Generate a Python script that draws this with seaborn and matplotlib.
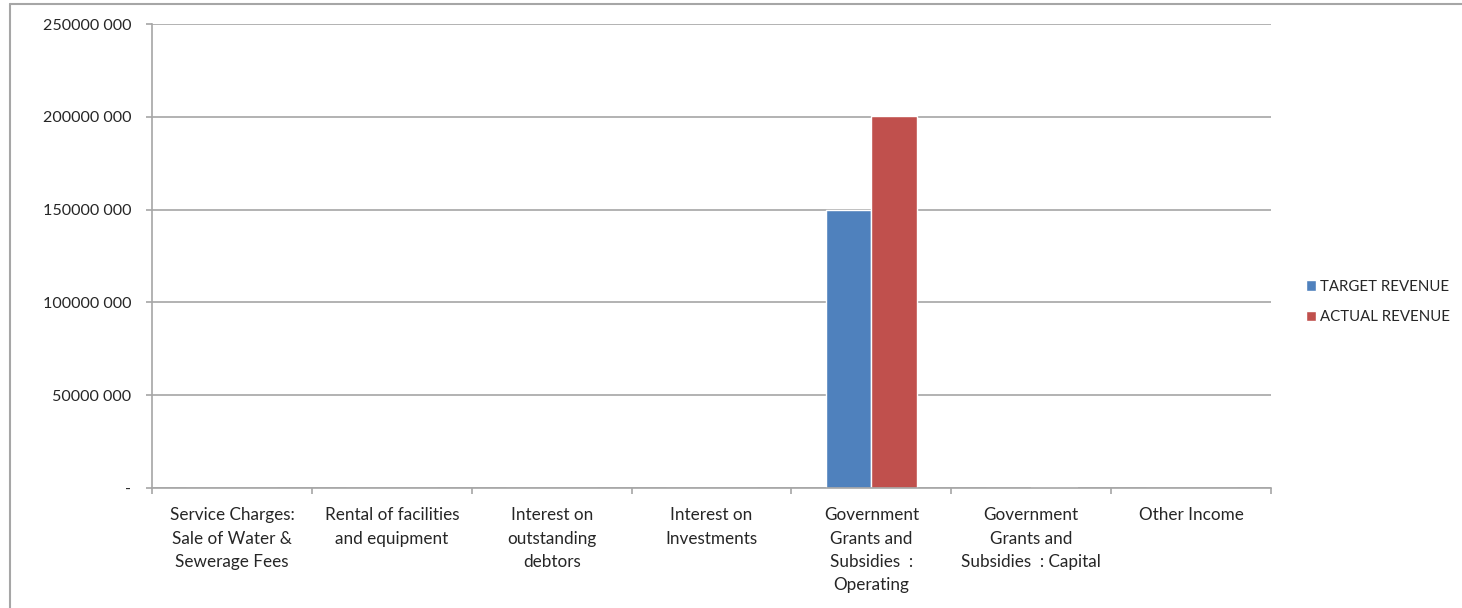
import pandas as pd
import matplotlib
matplotlib.use("Agg")
import matplotlib.pyplot as plt
import seaborn as sns
from matplotlib.ticker import FuncFormatter, FixedLocator

# dados
categories = [
    "Service Charges:\nSale of Water &\nSewerage Fees",
    "Rental of facilities\nand equipment",
    "Interest on\noutstanding\ndebtors",
    "Interest on\nInvestments",
    "Government\nGrants and\nSubsidies  :\nOperating",
    "Government\nGrants and\nSubsidies  : Capital",
    "Other Income",
]
target_revenue = [0, 0, 0, 0, 150000000, 0, 0]
actual_revenue = [0, 0, 0, 0, 200600000, 300000, 0]
series_names = ["TARGET REVENUE", "ACTUAL REVENUE"]
yticks = [0, 50000000, 100000000, 150000000, 200000000, 250000000]

df = pd.DataFrame({
    "Category": categories * 2,
    "Series": [series_names[0]] * len(categories) + [series_names[1]] * len(categories),
    "Value": target_revenue + actual_revenue,
})

sns.set_style("white")
plt.rcParams["font.family"] = ["Lato", "DejaVu Sans"]

fig = plt.figure(figsize=(14.62, 6.08), dpi=100)
ax = fig.add_axes([152 / 1462, 1 - 488 / 608, (1271 - 152) / 1462, (488 - 24) / 608])

sns.barplot(data=df, x="Category", y="Value", hue="Series",
            palette=["#4F81BD", "#C0504D"], width=0.57, ax=ax,
            saturation=1, errorbar=None, legend=True)

ax.set_ylim(0, 250000000)
ax.set_xlim(-0.5, len(categories) - 0.5)
ax.set_yticks(yticks)

def fmt(v, pos):
    if v == 0:
        return "-"
    v = int(round(v))
    return f"{v // 1000} {v % 1000:03d}"

ax.yaxis.set_major_formatter(FuncFormatter(fmt))
ax.yaxis.grid(True, color="#A6A6A6", linewidth=1.2)
ax.set_axisbelow(True)

ax.set_xticks(range(len(categories)))
ax.set_xticklabels(categories, fontsize=12.3, linespacing=1.55, va="top")
ax.xaxis.set_minor_locator(FixedLocator([i - 0.5 for i in range(len(categories) + 1)]))
ax.tick_params(axis="x", which="major", length=0, pad=14)
ax.tick_params(axis="x", which="minor", length=4.5, color="#A6A6A6", width=1.2, direction="out", bottom=True)
ax.tick_params(axis="y", length=4.3, color="#A6A6A6", width=1.2, direction="out", left=True, labelsize=11.6, pad=10.5)

for side in ["top", "right"]:
    ax.spines[side].set_visible(False)
for side in ["left", "bottom"]:
    ax.spines[side].set_color("#A6A6A6")
    ax.spines[side].set_linewidth(1.2)

ax.set_xlabel("")
ax.set_ylabel("")

handles, labels = ax.get_legend_handles_labels()
ax.get_legend().remove()
fig.legend(handles, labels, loc="center left", bbox_to_anchor=(1292 / 1462, 1 - 302 / 608),
           frameon=False, fontsize=10.8, handlelength=0.7, handleheight=0.7,
           handletextpad=0.25, labelspacing=1.1)

# borda do gráfico (estilo Excel)
fig.add_artist(plt.Line2D([10 / 1462, 10 / 1462], [0, 1 - 4 / 608], color="#A6A6A6", linewidth=1.5))
fig.add_artist(plt.Line2D([10 / 1462, 1], [1 - 4 / 608, 1 - 4 / 608], color="#A6A6A6", linewidth=1.5))

fig.savefig("out.png", dpi=100, facecolor="white")
